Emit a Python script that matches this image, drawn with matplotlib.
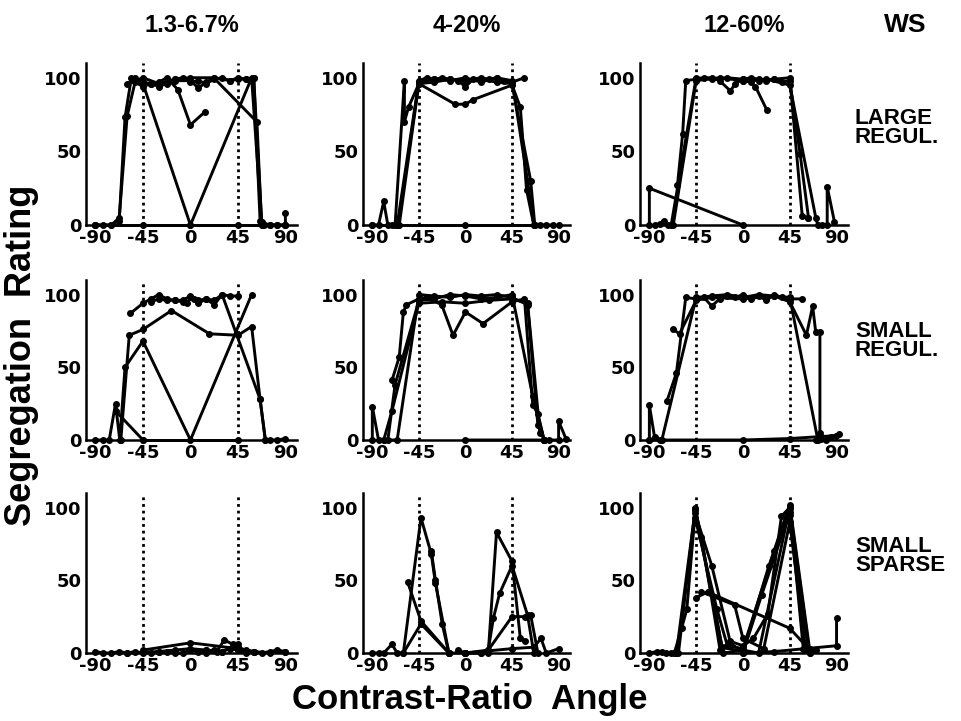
import matplotlib
matplotlib.use("Agg")
import matplotlib.pyplot as plt

plt.rcParams["font.family"] = ["DejaVu Sans"]
plt.rcParams["font.weight"] = "bold"
plt.rcParams["axes.unicode_minus"] = False

col_titles = ["1.3-6.7%", "4-20%", "12-60%"]
row_labels = ["LARGE\nREGUL.", "SMALL\nREGUL.", "SMALL\nSPARSE"]
x_ticks = [-90, -45, 0, 45, 90]
y_ticks = [0, 50, 100]

# each panel: list of (angles, ratings) runs
lr_lo = [
    ([-90, -82.5, -75, -67.5, -62, -56, -45, -37.5, -30, -22.5, -15, -7.5, 0, 7.5, 15, 22.5, 30, 37.5, 45, 52.5, 60, 67.5, 75, 82.5, 90],
     [0, 0, 0, 3, 73, 100, 97, 96, 94, 96, 99, 100, 97, 98, 96, 99, 100, 98, 100, 99, 100, 2, 0, 0, 0]),
    ([-90, -75, -67.5, -60, -52.5, -45, -37.5, -30, -15, 0, 7.5, 15, 22.5, 37.5, 45, 52.5, 60, 66, 70],
     [0, 0, 5, 74, 97, 94, 96, 95, 98, 98, 93, 97, 100, 98, 99, 99, 100, 3, 0]),
    ([-52.5, -45, 0, 58, 67.5], [100, 96, 0, 100, 0]),
    ([-30, -22.5, -12, 0, 14], [97, 100, 92, 68, 77]),
    ([-60, -52.5, -45, -30, -15, 0, 22, 63, 67.5, 75, 82.5, 90, 90],
     [96, 98, 100, 96, 99, 100, 100, 70, 0, 0, 0, 0, 8]),
    ([-90, -45, 0, 45, 90], [0, 0, 0, 0, 0]),
]
lr_mid = [
    ([-90, -84, -79, -75, -71, -65, -45, -30, -15, 0, 15, 30, 45, 60, 66, 72, 78, 85],
     [0, 0, 16, 0, 0, 0, 97, 99, 98, 100, 97, 100, 98, 30, 0, 0, 0, 0]),
    ([-68, -59, -59, -55, -45, -10, 0, 7, 45, 53, 59, 66],
     [0, 98, 70, 80, 96, 82, 82, 85, 95, 80, 24, 0]),
    ([-66, -45, -37.5, -30, -22.5, -15, -7.5, 0, 7.5, 15, 22.5, 30, 37.5, 45, 57],
     [0, 98, 100, 99, 100, 99, 98, 94, 99, 100, 99, 100, 98, 97, 100]),
    ([-64, -45, -30, -15, 0, 15, 30, 45, 63, 67],
     [0, 96, 97, 99, 98, 99, 97, 96, 30, 0]),
    ([-90, 0, 90], [0, 0, 0]),
]
lr_hi = [
    ([-90, -90, 0], [0, 25, 0]),
    ([-85, -80, -76, -72, -69, -45, -30, -15, 0, 15, 30, 45, 57, 63],
     [0, 1, 3, 0, 0, 100, 99, 100, 99, 98, 99, 100, 6, 5]),
    ([-63, -58, -55, -45, -37.5, -30, -22.5, -12, -7.5, 0, 7.5, 15, 22.5, 30, 37.5, 45, 55, 63],
     [27, 62, 98, 99, 100, 100, 98, 91, 96, 99, 100, 99, 98, 99, 97, 98, 48, 5]),
    ([0, 7.5, 12, 23], [98, 97, 94, 78]),
    ([-67, -45, -22.5, 0, 22.5, 45, 70, 72], [0, 98, 100, 98, 99, 95, 5, 0]),
    ([76, 81, 81, 88], [0, 0, 26, 2]),
]
sr_lo = [
    ([-90, -82.5, -77, -71, -67, -62, -45, 0, 58], [0, 0, 0, 25, 0, 50, 68, 0, 100]),
    ([-71, -45], [20, 0]),
    ([-66, -58, -45, -18, 18, 45, 58, 66, 71, 75, 82.5, 90],
     [0, 72, 76, 89, 73, 72, 78, 28, 0, 0, 0, 1]),
    ([-57, -45, -37.5, -30, -22.5, -15, -7.5, 0, 3, 7.5, 15, 22.5, 30, 37.5, 45],
     [87, 94, 97, 100, 97, 96, 96, 99, 97, 94, 97, 93, 100, 99, 99]),
    ([-37.5, -30, -22.5, -15, -7.5, -3, 0, 7.5, 15, 22.5, 30, 66, 71],
     [95, 97, 96, 96, 95, 94, 98, 96, 97, 96, 100, 28, 0]),
    ([-45, 45], [0, 0]),
]
sr_mid = [
    ([-90, -90, -84, -79, -66, -45, -30, -15, 0, 15, 30, 45, 60, 70, 76],
     [0, 23, 0, 0, 0, 100, 99, 98, 100, 99, 100, 98, 93, 10, 0]),
    ([-71, -64, -60, -57, -45, -37.5, -23, -12, 0, 17, 45, 57, 65, 70, 76],
     [41, 57, 88, 93, 97, 98, 93, 72, 88, 80, 95, 97, 24, 18, 0]),
    ([-75, -68, -45, -30, -15, 0, 15, 30, 45, 65, 76],
     [0, 38, 96, 97, 100, 99, 97, 98, 100, 30, 0]),
    ([-79, -71, -45, -22.5, 0, 22.5, 45, 60, 72],
     [0, 20, 94, 95, 94, 96, 97, 94, 5]),
    ([0, 76, 81, 90, 90, 97], [0, 0, 0, 0, 13, 1]),
]
sr_hi = [
    ([-90, -90, -85, -80, -78, -45, -30, -15, 0, 15, 30, 45, 72],
     [0, 24, 2, 0, 0, 98, 99, 100, 98, 100, 99, 98, 0]),
    ([-73, -64, -55, -45, -37.5, -30, -22.5, -15, -7.5, 0, 7.5, 15, 22.5, 30, 37.5, 45, 57],
     [27, 46, 98, 97, 98, 92, 97, 99, 98, 100, 97, 99, 96, 100, 98, 97, 97]),
    ([-67, -61, -45, -30, 0, 30, 45, 61, 67, 70, 74, 74],
     [76, 73, 96, 98, 97, 99, 95, 72, 92, 74, 74, 5]),
    ([-90, 0, 45, 89], [0, 0, 1, 3]),
    ([70, 75, 80, 85, 92], [0, 1, 0, 2, 4]),
]
ss_lo = [
    ([-90, -82.5, -75, -67.5, -60, -52.5, -45, -37.5, -30, -22.5, -15, -7.5, 0, 7.5, 15, 22.5, 30, 37.5, 45, 52.5, 60, 67.5, 75, 82.5, 90],
     [1, 0, 0, 1, 0, 1, 0, 0, 1, 1, 0, 0, 2, 1, 0, 2, 1, 3, 2, 0, 1, 0, 1, 2, 1]),
    ([-45, 0, 45, 60], [2, 7, 3, 1]),
    ([15, 25, 32, 40, 45, 52.5, 60, 75, 90], [2, 1, 9, 6, 4, 2, 1, 0, 1]),
    ([-60, -30, -15, 0, 15, 30, 45], [0, 1, 2, 3, 2, 1, 6]),
]
ss_mid = [
    ([-90, -84, -79, -71, -66, -60, -43, -33, -29, -16, 0],
     [0, 0, 0, 6, 0, 0, 93, 68, 48, 0, 0]),
    ([-60, -43, -16], [0, 20, 0]),
    ([-56, -43, -16], [49, 22, 0]),
    ([-33, -29, -22.5, -16], [70, 50, 20, 0]),
    ([0, 15, 22, 30, 45, 53, 58], [0, 0, 0, 83, 63, 10, 8]),
    ([0, 15, 22, 27, 33, 45, 60, 66], [0, 0, 2, 24, 41, 60, 26, 0]),
    ([0, 22, 45, 58, 63, 70], [0, 2, 25, 25, 26, 0]),
    ([-7.5, 0, 45, 66, 73, 78, 90], [2, 0, 3, 4, 10, 0, 3]),
]
ss_hi = [
    ([-90, -82.5, -78, -74, -69, -64, -46, -19, 0, 15, 45, 64, 70],
     [0, 1, 1, 0, 0, 0, 98, 0, 2, 0, 100, 0, 2]),
    ([-66, -59, -54, -46, -30, -12, 0, 18, 45, 63], [0, 17, 30, 96, 60, 7, 0, 40, 97, 2]),
    ([-62, -46, -40, -22, -12, 0, 10, 24, 37, 45, 58], [0, 99, 80, 2, 8, 5, 10, 27, 94, 100, 3]),
    ([-45, -34, 45, 63], [38, 42, 17, 3]),
    ([-40, -8, 0, 20, 45, 60], [42, 33, 10, 3, 90, 4]),
    ([-46, -25, -15, 0, 30, 45, 64], [93, 30, 5, 3, 70, 95, 0]),
    ([0, 30, 60, 90, 90], [0, 1, 3, 5, 24]),
    ([-46, -20, 0, 25, 45, 64], [100, 4, 1, 60, 102, 3]),
]

panels = [[lr_lo, lr_mid, lr_hi], [sr_lo, sr_mid, sr_hi], [ss_lo, ss_mid, ss_hi]]

W, H = 961, 721
col_left = [86, 363, 640]
col_width = [211, 207, 208]
row_top = [63, 280, 493]
row_bottom = [225, 440, 653]
helv = ["Liberation Sans", "DejaVu Sans"]

fig = plt.figure(figsize=(W / 100, H / 100), dpi=100)

for r in range(3):
    for c in range(3):
        ax = fig.add_axes([col_left[c] / W, 1 - row_bottom[r] / H,
                           col_width[c] / W, (row_bottom[r] - row_top[r]) / H])
        for xs, ys in panels[r][c]:
            ax.plot(xs, ys, color="black", lw=2.1, marker="o", ms=4,
                    clip_on=False, zorder=3)
        for a in (-45, 45):
            ax.axvline(a, color="black", lw=2, ls=(0, (1, 1.4)), zorder=2)
        ax.set_xlim(-99, 101)
        ax.set_ylim(0, 110)
        ax.set_xticks(x_ticks)
        ax.set_yticks(y_ticks)
        ax.tick_params(length=0, labelsize=13, pad=3)
        for lab in ax.get_xticklabels() + ax.get_yticklabels():
            lab.set_fontweight("bold")
        for s in ("top", "right"):
            ax.spines[s].set_visible(False)
        for s in ("left", "bottom"):
            ax.spines[s].set_linewidth(1.8)

for c in range(3):
    fig.text((col_left[c] + col_width[c] / 2) / W, 1 - 25 / H, col_titles[c],
             ha="center", va="center", fontsize=17, fontweight="bold", family=helv)
fig.text(905 / W, 1 - 25 / H, "WS", ha="center", va="center", fontsize=19,
         fontweight="bold", family=helv)

for r, y in enumerate([128, 341, 556]):
    fig.text(855 / W, 1 - y / H, row_labels[r], ha="left", va="center",
             fontsize=16, fontweight="bold", linespacing=0.85, family=helv)

fig.text(22 / W, 1 - 355 / H, "Segregation  Rating", rotation=90, ha="center",
         va="center", fontsize=26, fontweight="bold", family=helv)
fig.text(470 / W, 1 - 700 / H, "Contrast-Ratio  Angle", ha="center", va="center",
         fontsize=25, fontweight="bold", family=helv)

fig.savefig("out.png", dpi=100)
